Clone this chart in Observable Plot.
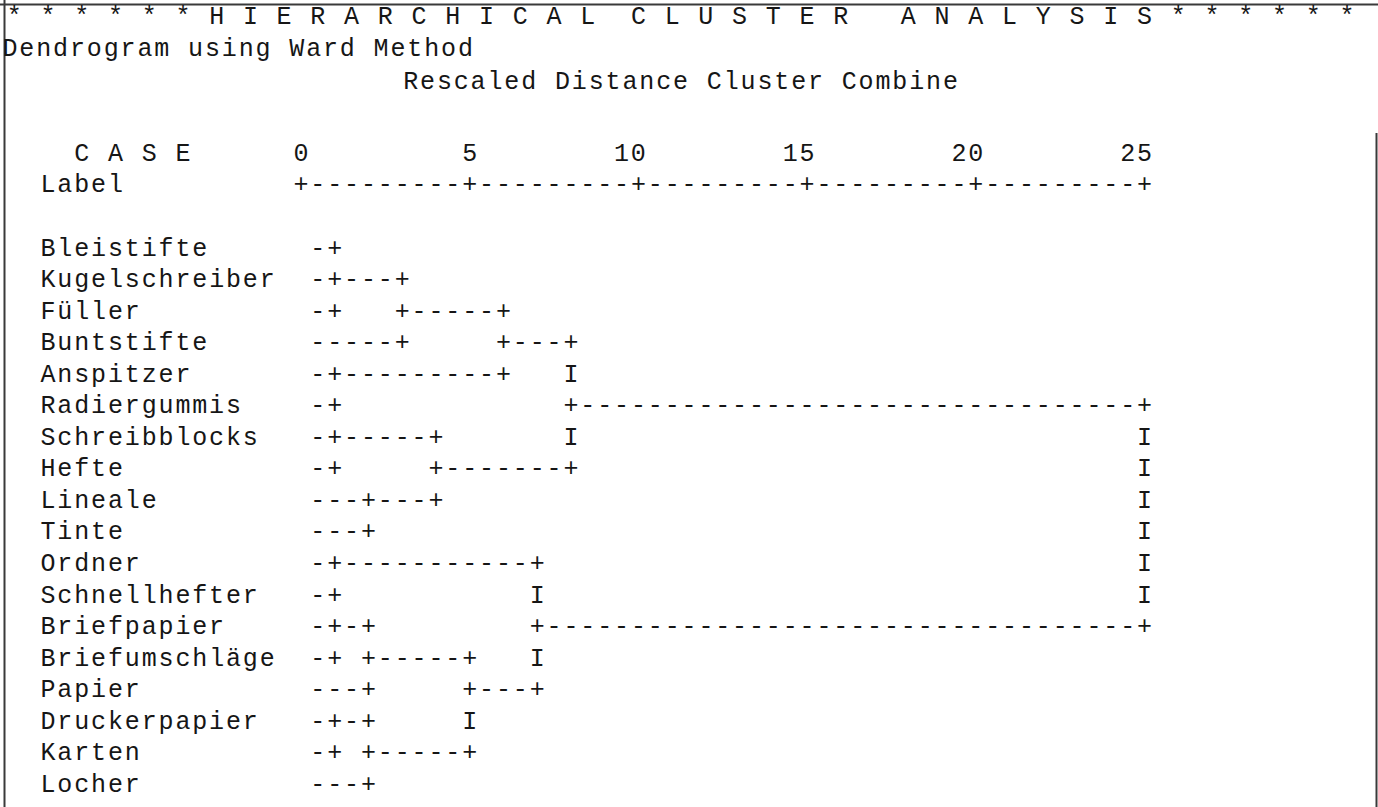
<!DOCTYPE html>
<html>
<head>
<meta charset="utf-8">
<script src="https://cdn.jsdelivr.net/npm/d3@7"></script>
<script src="https://cdn.jsdelivr.net/npm/@observablehq/plot@0.6"></script>
<style>
  html, body { margin: 0; padding: 0; background: #fff; overflow: hidden; }
  #chart svg { display: block; }
</style>
</head>
<body>
<div id="chart"></div>
<script>
// ---------------- DATA ----------------
const cases = [
  "Bleistifte", "Kugelschreiber", "Füller", "Buntstifte", "Anspitzer",
  "Radiergummis", "Schreibblocks", "Hefte", "Lineale", "Tinte",
  "Ordner", "Schnellhefter", "Briefpapier", "Briefumschläge", "Papier",
  "Druckerpapier", "Karten", "Locher"
];
// agglomeration steps: [cluster A, cluster B, rescaled distance]
// ids < 18 are cases, id 18 + k is the cluster formed at step k
const merges = [
  [0, 1, 1],    // 18
  [18, 2, 1],   // 19
  [19, 3, 3],   // 20
  [4, 5, 1],    // 21
  [20, 21, 6],  // 22
  [6, 7, 1],    // 23
  [8, 9, 2],    // 24
  [23, 24, 4],  // 25
  [22, 25, 8],  // 26
  [10, 11, 1],  // 27
  [12, 13, 1],  // 28
  [28, 14, 2],  // 29
  [15, 16, 1],  // 30
  [30, 17, 2],  // 31
  [29, 31, 5],  // 32
  [27, 32, 7],  // 33
  [26, 33, 25]  // 34
];
const ticks = [0, 5, 10, 15, 20, 25];
const titleText = "* * * * * * H I E R A R C H I C A L  C L U S T E R   A N A L Y S I S * * * * * *";
const subtitleText = "Dendrogram using Ward Method";
const axisTitleText = "Rescaled Distance Cluster Combine";
const caseHeaderText = "C A S E";
const labelHeaderText = "Label";

// ---------------- LAYOUT ----------------
const W = 1378, H = 807;
const X0 = 300.5;          // pixel of rescaled distance 0
const UNIT = 33.74;        // pixels per rescaled distance unit (= 2 character columns)
const COL = UNIT / 2;      // character column width
const Y0 = 247;            // pixel of first case row
const ROW = 31.55;         // line pitch
const FONT = 25;
const ADV = FONT * 0.6;    // glyph advance of the monospace font
const SPACING = COL - ADV; // extra spacing to match the column grid
const FAMILY = "'Liberation Mono', 'Courier New', monospace";
const INK = "#161616";
const toX = px => (px - X0) / UNIT;   // pixel -> distance units
const toY = px => (px - Y0) / ROW;    // pixel -> row units
const colX = c => c / 2;              // character column -> distance units

// ---------------- BUILD CHARACTER GRID ----------------
const grid = new Map();
function put(row, col, ch, force = true) {
  const k = row + "," + col;
  if (force || !grid.has(k)) grid.set(k, {row, col, ch});
}
const nodes = cases.map((_, i) => ({row: i, col: 0}));
merges.forEach(([a, b, d], k) => {
  const c = Math.round(d * 2);
  const A = nodes[a], B = nodes[b];
  for (const nd of [A, B]) {
    for (let j = nd.col + 1; j < c; j++) put(nd.row, j, "-");
    put(nd.row, c, "+");
  }
  const top = Math.min(A.row, B.row), bot = Math.max(A.row, B.row);
  for (let r = top + 1; r < bot; r++) put(r, c, "I", false);
  const row = Math.floor((top + bot) / 2);
  if (k < merges.length - 1) put(row, c, "+");
  nodes.push({row, col: c});
});
const cells = Array.from(grid.values());

// axis line "+---------+---------+..."
const axisRow = -2, numberRow = -3;
const tickCols = ticks.map(t => t * 2);
const axisCells = d3.range(d3.min(tickCols), d3.max(tickCols) + 1)
  .map(c => ({col: c, ch: tickCols.includes(c) ? "+" : "-"}));
const tickLabels = ticks.map(t => ({text: String(t), col: t * 2 - (String(t).length - 1)}));

const headerLines = [
  {text: titleText, col: -17, row: toY(15)},
  {text: subtitleText, col: -17.25, row: toY(47)},
  {text: axisTitleText, col: 6.5, row: toY(80)},
  {text: caseHeaderText, col: -13, row: numberRow},
  {text: labelHeaderText, col: -15, row: axisRow}
];

// ---------------- PLOT ----------------
const common = {fontFamily: FAMILY, fontSize: FONT, fill: INK};
const svg = Plot.plot({
  width: W,
  height: H,
  margin: 0,
  style: {background: "#fff", color: INK, fontFamily: FAMILY},
  x: {type: "linear", domain: [toX(0), toX(W)], range: [0, W], axis: null},
  y: {type: "linear", domain: [toY(0), toY(H)], range: [0, H], axis: null},
  marks: [
    // scanned page border
    Plot.ruleY([toY(4)], {stroke: "#3a3a3a", strokeWidth: 2}),
    Plot.ruleX([toX(4)], {stroke: "#3a3a3a", strokeWidth: 2}),
    Plot.ruleX([toX(1376)], {y1: () => toY(133), y2: () => toY(H), stroke: "#3a3a3a", strokeWidth: 2}),
    // header lines
    Plot.text(headerLines, {x: d => colX(d.col), y: "row", text: "text", textAnchor: "start", dx: -ADV / 2, ...common}),
    // scale numbers and axis line
    Plot.text(tickLabels, {x: d => colX(d.col), y: () => numberRow, text: "text", textAnchor: "start", dx: -ADV / 2, ...common}),
    Plot.text(axisCells, {x: d => colX(d.col), y: () => axisRow, text: "ch", ...common}),
    // case labels
    Plot.text(cases, {x: () => colX(-15), y: (d, i) => i, text: d => d, textAnchor: "start", dx: -ADV / 2, ...common}),
    // dendrogram characters
    Plot.text(cells, {x: d => colX(d.col), y: "row", text: "ch", ...common})
  ]
});
// stretch multi-character strings onto the fixed character grid
d3.select(svg).selectAll("text")
  .filter(function() { return this.textContent.length > 1; })
  .attr("textLength", function() { return this.textContent.length * COL - SPACING; })
  .attr("lengthAdjust", "spacing");
document.getElementById("chart").appendChild(svg);
</script>
</body>
</html>
